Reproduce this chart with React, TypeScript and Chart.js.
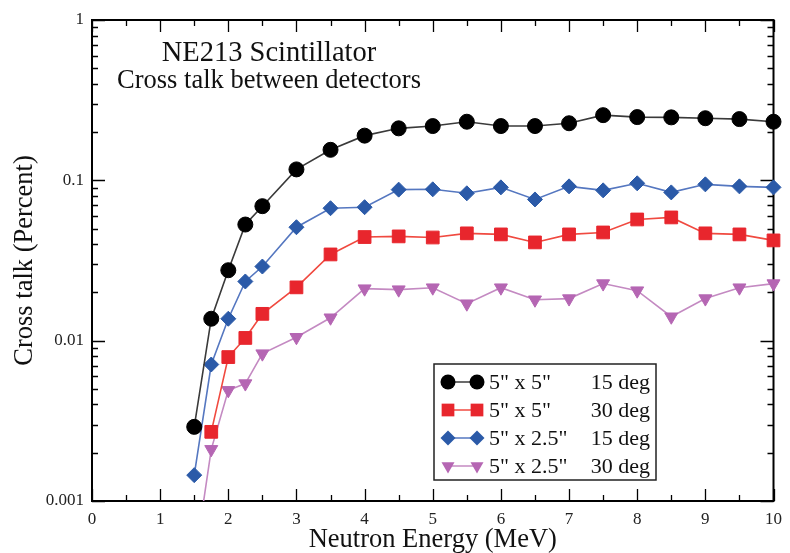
import React, { useEffect, useRef } from "react";
import { Chart, registerables } from "chart.js";
Chart.register(...registerables);

// ---- data ----
const energies = [1.5, 1.75, 2, 2.25, 2.5, 3, 3.5, 4, 4.5, 5, 5.5, 6, 6.5, 7, 7.5, 8, 8.5, 9, 9.5, 10];
const ct5x5deg15 = [0.0029, 0.0137, 0.0275, 0.053, 0.069, 0.117, 0.155, 0.19, 0.211, 0.218, 0.232, 0.218, 0.218, 0.227, 0.255, 0.248, 0.247, 0.244, 0.241, 0.232];
const ct5x5deg30 = [null, 0.0027, 0.0079, 0.0104, 0.0147, 0.0215, 0.0345, 0.0443, 0.0447, 0.044, 0.0467, 0.046, 0.041, 0.046, 0.0473, 0.057, 0.0587, 0.0467, 0.046, 0.0422];
const ct5x25deg15 = [0.00145, 0.0071, 0.0137, 0.0234, 0.029, 0.051, 0.067, 0.068, 0.0875, 0.0879, 0.083, 0.0904, 0.076, 0.0917, 0.0866, 0.0958, 0.0841, 0.0944, 0.0917, 0.0904];
const ct5x25deg30 = [0.0004, 0.0021, 0.0049, 0.0054, 0.0083, 0.0105, 0.0139, 0.0211, 0.0208, 0.0214, 0.017, 0.0214, 0.018, 0.0183, 0.0227, 0.0205, 0.0141, 0.0183, 0.0214, 0.0227];

const detectorSizes = ['5" x 5"', '5" x 5"', '5" x 2.5"', '5" x 2.5"'];
const detectorAngles = ["15 deg", "30 deg", "15 deg", "30 deg"];

const xTickValues = [0, 1, 2, 3, 4, 5, 6, 7, 8, 9, 10];
const xTickLabels = ["0", "1", "2", "3", "4", "5", "6", "7", "8", "9", "10"];
const yTickValues = [0.001, 0.01, 0.1, 1];
const yTickLabels = ["0.001", "0.01", "0.1", "1"];

const titleLines = ["NE213 Scintillator", "Cross talk between detectors"];
const xTitle = "Neutron Energy (MeV)";
const yTitle = "Cross talk (Percent)";

const SERIF = "'Liberation Serif', 'DejaVu Serif', serif";

const seriesStyles = [
  { line: "#3a3a3a", fill: "#000000", style: "circle", radius: 7.5, rotation: 0 },
  { line: "#f04a40", fill: "#e8262d", style: "rect", radius: 9, rotation: 0 },
  { line: "#5577c0", fill: "#2b5aa8", style: "rectRot", radius: 7.5, rotation: 0 },
  { line: "#c48ac2", fill: "#b566b3", style: "triangle", radius: 7.5, rotation: 180 },
];
const seriesValues = [ct5x5deg15, ct5x5deg30, ct5x25deg15, ct5x25deg30];

function drawMarker(ctx: CanvasRenderingContext2D, style: string, x: number, y: number, r: number) {
  ctx.beginPath();
  if (style === "circle") {
    ctx.arc(x, y, r, 0, Math.PI * 2);
  } else if (style === "rect") {
    const s = Math.SQRT1_2 * r;
    ctx.rect(x - s, y - s, 2 * s, 2 * s);
  } else if (style === "rectRot") {
    ctx.moveTo(x - r, y);
    ctx.lineTo(x, y - r);
    ctx.lineTo(x + r, y);
    ctx.lineTo(x, y + r);
    ctx.closePath();
  } else {
    for (let i = 0; i < 3; i++) {
      const a = Math.PI + (i * 2 * Math.PI) / 3;
      const px = x + Math.sin(a) * r;
      const py = y - Math.cos(a) * r;
      if (i === 0) ctx.moveTo(px, py);
      else ctx.lineTo(px, py);
    }
    ctx.closePath();
  }
  ctx.fill();
}

const framePlugin = {
  id: "frameTicks",
  beforeDatasetsDraw(chart: any) {
    const { ctx, chartArea, scales } = chart;
    const { left, right, top, bottom } = chartArea;
    const x = scales.x;
    const y = scales.y;
    ctx.save();
    ctx.strokeStyle = "#000";
    ctx.lineWidth = 1.3;
    ctx.beginPath();
    for (let i = 0; i < xTickValues.length; i++) {
      const v = xTickValues[i];
      const px = Math.round(x.getPixelForValue(v)) + 0.5;
      ctx.moveTo(px, bottom); ctx.lineTo(px, bottom - 12);
      ctx.moveTo(px, top); ctx.lineTo(px, top + 12);
      if (i < xTickValues.length - 1) {
        const m = (v + xTickValues[i + 1]) / 2;
        const pm = Math.round(x.getPixelForValue(m)) + 0.5;
        ctx.moveTo(pm, bottom); ctx.lineTo(pm, bottom - 6);
        ctx.moveTo(pm, top); ctx.lineTo(pm, top + 6);
      }
    }
    for (let i = 0; i < yTickValues.length; i++) {
      const d = yTickValues[i];
      const py = Math.round(y.getPixelForValue(d)) + 0.5;
      ctx.moveTo(left, py); ctx.lineTo(left + 13, py);
      ctx.moveTo(right, py); ctx.lineTo(right - 13, py);
      if (i < yTickValues.length - 1) {
        for (let k = 2; k <= 9; k++) {
          const pm = Math.round(y.getPixelForValue(d * k)) + 0.5;
          ctx.moveTo(left, pm); ctx.lineTo(left + 6, pm);
          ctx.moveTo(right, pm); ctx.lineTo(right - 6, pm);
        }
      }
    }
    ctx.stroke();
    ctx.lineWidth = 2;
    ctx.strokeRect(left, top, right - left, bottom - top);
    ctx.restore();
  },
  afterDraw(chart: any) {
    const { ctx } = chart;
    ctx.save();
    ctx.fillStyle = "#111";
    ctx.textAlign = "center";
    ctx.textBaseline = "alphabetic";
    ctx.font = `28.5px ${SERIF}`;
    ctx.fillText(titleLines[0], 269, 61);
    ctx.font = `26.5px ${SERIF}`;
    ctx.fillText(titleLines[1], 269, 88);

    const bx = 434, by = 364, bw = 222, bh = 116;
    ctx.fillStyle = "#fff";
    ctx.fillRect(bx, by, bw, bh);
    ctx.strokeStyle = "#222";
    ctx.lineWidth = 1.5;
    ctx.strokeRect(bx, by, bw, bh);
    const rows = [382, 410, 438, 466];
    chart.data.datasets.forEach((ds: any, i: number) => {
      const st = seriesStyles[i];
      const ry = rows[i];
      ctx.strokeStyle = st.line;
      ctx.lineWidth = 1.5;
      ctx.beginPath();
      ctx.moveTo(448, ry);
      ctx.lineTo(477, ry);
      ctx.stroke();
      ctx.fillStyle = st.fill;
      drawMarker(ctx, st.style, 448, ry, st.style === "rect" ? 9 : 7.5);
      drawMarker(ctx, st.style, 477, ry, st.style === "rect" ? 9 : 7.5);
      ctx.fillStyle = "#111";
      ctx.font = `22px ${SERIF}`;
      ctx.textBaseline = "middle";
      ctx.textAlign = "left";
      ctx.fillText(detectorSizes[i], 489, ry + 1);
      ctx.textAlign = "right";
      ctx.fillText(detectorAngles[i], 650, ry + 1);
    });
    ctx.restore();
  },
};

export default function App() {
  const canvasRef = useRef<HTMLCanvasElement | null>(null);

  useEffect(() => {
    document.body.style.margin = "0";
    const canvas = canvasRef.current;
    if (!canvas) return;
    const datasets = seriesValues.map((vals, i) => {
      const st = seriesStyles[i];
      return {
        label: `${detectorSizes[i]} ${detectorAngles[i]}`,
        data: energies.map((e, j) => ({ x: e, y: vals[j] })),
        borderColor: st.line,
        backgroundColor: st.fill,
        pointBackgroundColor: st.fill,
        pointBorderColor: st.fill,
        pointBorderWidth: 1,
        pointStyle: st.style,
        pointRadius: st.radius,
        pointRotation: st.rotation,
        borderWidth: 1.6,
        tension: 0,
        clip: { left: 12, right: 12, top: 12, bottom: 0 },
      };
    });
    const chart = new Chart(canvas, {
      type: "line",
      data: { datasets: datasets as any },
      options: {
        animation: false,
        responsive: true,
        maintainAspectRatio: false,
        layout: { padding: { left: 0, top: 20, right: 9, bottom: 0 } },
        plugins: { legend: { display: false }, tooltip: { enabled: false } },
        scales: {
          x: {
            type: "linear",
            min: 0,
            max: 10,
            afterFit: (s: any) => { s.height = 52; },
            afterBuildTicks: (s: any) => { s.ticks = xTickValues.map((v) => ({ value: v })); },
            grid: { display: false, drawTicks: false },
            border: { display: false },
            ticks: {
              padding: 8,
              color: "#222",
              font: { family: SERIF, size: 17 },
              maxRotation: 0,
              autoSkip: false,
              callback: (v: any) => { const i = xTickValues.indexOf(Number(v)); return i >= 0 ? xTickLabels[i] : ""; },
            },
            title: {
              display: true,
              text: xTitle,
              color: "#111",
              font: { family: SERIF, size: 26.5, lineHeight: 1 },
              padding: { top: 0, bottom: 0 },
            },
          },
          y: {
            type: "logarithmic",
            min: 0.001,
            max: 1,
            afterFit: (s: any) => { s.width = 92; },
            afterBuildTicks: (s: any) => { s.ticks = yTickValues.map((v) => ({ value: v })); },
            grid: { display: false, drawTicks: false },
            border: { display: false },
            ticks: {
              padding: 8,
              color: "#222",
              font: { family: SERIF, size: 17 },
              autoSkip: false,
              callback: (v: any) => { const i = yTickValues.findIndex((t) => Math.abs(t - Number(v)) < t * 1e-6); return i >= 0 ? yTickLabels[i] : ""; },
            },
            title: {
              display: true,
              text: yTitle,
              color: "#111",
              font: { family: SERIF, size: 26.5, lineHeight: 1 },
              padding: { top: 12, bottom: 0 },
            },
          },
        },
      },
      plugins: [framePlugin],
    });
    return () => chart.destroy();
  }, []);

  return (
    <div style={{ position: "fixed", left: 0, top: 0, width: 790, height: 553, background: "#fff" }}>
      <canvas ref={canvasRef} />
    </div>
  );
}
